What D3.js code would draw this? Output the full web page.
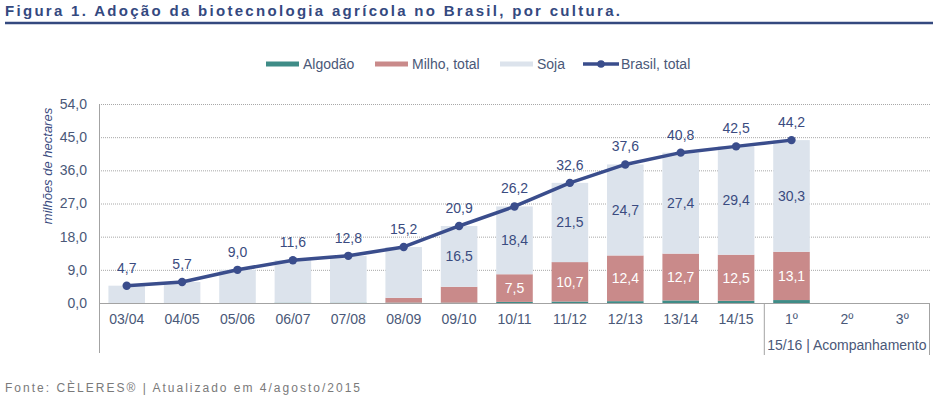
<!DOCTYPE html>
<html>
<head>
<meta charset="utf-8">
<script src="https://cdn.jsdelivr.net/npm/d3@7"></script>
<style>
  html, body { margin: 0; padding: 0; background: #fff; }
  svg { display: block; font-family: "Liberation Sans", Arial, sans-serif; }
</style>
</head>
<body>
<svg id="chart" width="935" height="400"></svg>
<script>
// ---- data ----
const categories = ["03/04","04/05","05/06","06/07","07/08","08/09","09/10","10/11","11/12","12/13","13/14","14/15","1º","2º","3º"];
const brasilTotal = [4.7, 5.7, 9.0, 11.6, 12.8, 15.2, 20.9, 26.2, 32.6, 37.6, 40.8, 42.5, 44.2, null, null];
const soja        = [4.7, 5.7, 9.0, 11.5, 12.7, 13.8, 16.5, 18.4, 21.5, 24.7, 27.4, 29.4, 30.3, null, null];
const milho       = [0, 0, 0, 0, 0, 1.3, 4.3, 7.5, 10.7, 12.4, 12.7, 12.5, 13.1, null, null];
const algodao     = [0, 0, 0, 0.1, 0.1, 0.1, 0.1, 0.3, 0.4, 0.5, 0.7, 0.6, 0.8, null, null];
const showSojaLabel  = [false,false,false,false,false,false,true,true,true,true,true,true,true,false,false];
const showMilhoLabel = [false,false,false,false,false,false,false,true,true,true,true,true,true,false,false];
const yTicks = [0, 9, 18, 27, 36, 45, 54];
const seriesNames = ["Algodão", "Milho, total", "Soja", "Brasil, total"];
const title = "Figura 1. Adoção da biotecnologia agrícola no Brasil, por cultura.";
const source = "Fonte: CÈLERES® | Atualizado em 4/agosto/2015";
const groupLabel = "15/16 | Acompanhamento";
const yTitle = "milhões de hectares";

// ---- style ----
const C = {
  algodao: "#3F8C87", milho: "#C98A8A", soja: "#DCE3EC", line: "#3A4D8C",
  text: "#4A5878", value: "#3A4B80", axis: "#A3A3A3", grid: "#A8A8A8",
  title: "#34497F", source: "#7A7A7A"
};
const FS = 14;

const svg = d3.select("#chart");
const x0 = 99, x1 = 930;
const yBase = 303, yTop = 104;

const loc = d3.formatLocale({ decimal: ",", thousands: ".", grouping: [3], currency: ["", ""] });
const fmt = loc.format(".1f");

const x = d3.scaleBand().domain(categories).range([x0, x1]).paddingInner(0).paddingOuter(0);
const y = d3.scaleLinear().domain([0, 54]).range([yBase, yTop]);
const barW = x.bandwidth() * 0.66;

// title
svg.append("text")
  .attr("x", 5).attr("y", 15.5)
  .attr("font-size", 15).attr("font-weight", "bold")
  .attr("fill", C.title)
  .attr("textLength", 615).attr("lengthAdjust", "spacing")
  .text(title);
svg.append("line")
  .attr("x1", 5).attr("x2", 933).attr("y1", 23).attr("y2", 23)
  .attr("stroke", C.title).attr("stroke-width", 2.5);

// gridlines
svg.append("g").selectAll("line")
  .data(yTicks.filter(d => d > 0))
  .join("line")
  .attr("x1", x0).attr("x2", x1)
  .attr("y1", d => y(d) + 0.5).attr("y2", d => y(d) + 0.5)
  .attr("stroke", C.grid).attr("stroke-width", 1)
  .attr("stroke-dasharray", "1,1");

// y axis labels
const yAxis = d3.axisLeft(y).tickValues(yTicks).tickSize(0).tickPadding(12).tickFormat(d => fmt(d));
const gy = svg.append("g").attr("transform", `translate(${x0},0)`).call(yAxis);
gy.select(".domain").remove();
gy.selectAll("text").attr("font-size", FS).attr("fill", C.text)
  .attr("font-family", "Liberation Sans, Arial, sans-serif");

// y title
svg.append("text")
  .attr("transform", `translate(52,${166}) rotate(-90)`)
  .attr("text-anchor", "middle")
  .attr("font-size", 13).attr("font-style", "italic")
  .attr("fill", C.value)
  .text(yTitle);

// bars
const rows = categories.map((c, i) => ({
  c, i, a: algodao[i], m: milho[i], s: soja[i], t: brasilTotal[i]
})).filter(d => d.s != null);

const bars = svg.append("g");
rows.forEach(d => {
  const cx = x(d.c) + x.bandwidth() / 2;
  const segs = [
    { v0: 0, v1: d.a, col: C.algodao },
    { v0: d.a, v1: d.a + d.m, col: C.milho },
    { v0: d.a + d.m, v1: d.a + d.m + d.s, col: C.soja }
  ];
  bars.selectAll(null).data(segs.filter(s => s.v1 > s.v0)).enter().append("rect")
    .attr("x", cx - barW / 2).attr("width", barW)
    .attr("y", s => y(s.v1)).attr("height", s => y(s.v0) - y(s.v1))
    .attr("fill", s => s.col);
  if (showMilhoLabel[d.i]) {
    bars.append("text").attr("x", cx).attr("y", y(d.a + d.m / 2))
      .attr("dy", "0.35em").attr("text-anchor", "middle")
      .attr("font-size", FS).attr("fill", "#fff").text(fmt(d.m));
  }
  if (showSojaLabel[d.i]) {
    bars.append("text").attr("x", cx).attr("y", y(d.a + d.m + d.s / 2))
      .attr("dy", "0.35em").attr("text-anchor", "middle")
      .attr("font-size", FS).attr("fill", C.value).text(fmt(d.s));
  }
});

// axes lines
svg.append("line").attr("x1", x0 + 0.5).attr("x2", x0 + 0.5).attr("y1", yTop).attr("y2", 353)
  .attr("stroke", C.axis).attr("stroke-width", 1);
svg.append("line").attr("x1", x0).attr("x2", x1).attr("y1", yBase + 0.5).attr("y2", yBase + 0.5)
  .attr("stroke", C.axis).attr("stroke-width", 1);
const sepX = x("1º");
svg.append("line").attr("x1", sepX + 0.5).attr("x2", sepX + 0.5).attr("y1", yBase).attr("y2", 355)
  .attr("stroke", C.axis);
svg.append("line").attr("x1", x1 - 0.5).attr("x2", x1 - 0.5).attr("y1", yBase).attr("y2", 355)
  .attr("stroke", C.axis);

// x axis labels
const xAxis = d3.axisBottom(x).tickSize(0).tickPadding(11);
const gx = svg.append("g").attr("transform", `translate(0,${yBase})`).call(xAxis);
gx.select(".domain").remove();
gx.selectAll("text").attr("font-size", FS).attr("fill", C.text)
  .attr("font-family", "Liberation Sans, Arial, sans-serif");

svg.append("text")
  .attr("x", (sepX + x1) / 2).attr("y", 350)
  .attr("text-anchor", "middle").attr("font-size", FS).attr("fill", C.text)
  .text(groupLabel);

// line
const pts = rows.filter(d => d.t != null);
const line = d3.line().x(d => x(d.c) + x.bandwidth() / 2).y(d => y(d.t));
svg.append("path").datum(pts).attr("d", line)
  .attr("fill", "none").attr("stroke", C.line).attr("stroke-width", 3.5)
  .attr("stroke-linejoin", "round");
svg.append("g").selectAll("circle").data(pts).join("circle")
  .attr("cx", d => x(d.c) + x.bandwidth() / 2).attr("cy", d => y(d.t))
  .attr("r", 4.2).attr("fill", C.line);
svg.append("g").selectAll("text").data(pts).join("text")
  .attr("x", d => x(d.c) + x.bandwidth() / 2).attr("y", d => y(d.t) - 13)
  .attr("text-anchor", "middle").attr("font-size", FS).attr("fill", C.value)
  .text(d => fmt(d.t));

// legend
const legend = svg.append("g");
const legItems = [
  { name: seriesNames[0], type: "rect", col: C.algodao, x: 266 },
  { name: seriesNames[1], type: "rect", col: C.milho, x: 375 },
  { name: seriesNames[2], type: "rect", col: C.soja, x: 500 },
  { name: seriesNames[3], type: "line", col: C.line, x: 583 }
];
legItems.forEach(it => {
  if (it.type === "rect") {
    legend.append("rect").attr("x", it.x).attr("y", 61.5).attr("width", 33).attr("height", 5).attr("fill", it.col);
    legend.append("text").attr("x", it.x + 37).attr("y", 64).attr("dy", "0.35em")
      .attr("font-size", FS).attr("fill", C.text).text(it.name);
  } else {
    legend.append("line").attr("x1", it.x).attr("x2", it.x + 36).attr("y1", 64).attr("y2", 64)
      .attr("stroke", it.col).attr("stroke-width", 3.5);
    legend.append("circle").attr("cx", it.x + 18).attr("cy", 64).attr("r", 3.8).attr("fill", it.col);
    legend.append("text").attr("x", it.x + 38).attr("y", 64).attr("dy", "0.35em")
      .attr("font-size", FS).attr("fill", C.text).text(it.name);
  }
});

// source
svg.append("text")
  .attr("x", 5).attr("y", 392)
  .attr("font-size", 12).attr("fill", C.source)
  .attr("textLength", 355).attr("lengthAdjust", "spacing")
  .text(source);
</script>
</body>
</html>
